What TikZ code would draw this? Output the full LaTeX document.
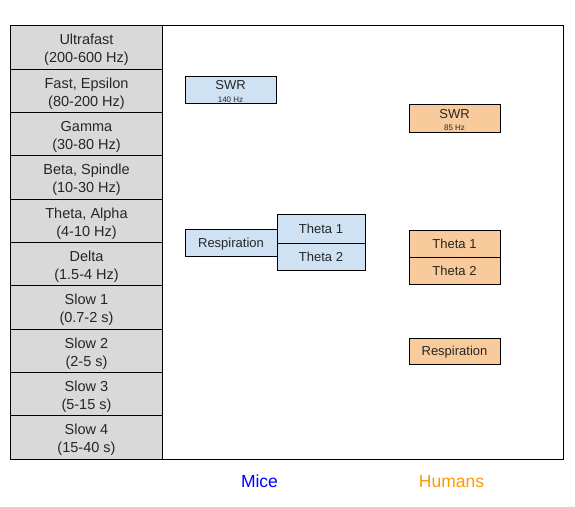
\documentclass[tikz,border=0pt]{standalone}
\usepackage{fontspec}
\setmainfont{Liberation Sans}
\definecolor{rowgray}{HTML}{D9D9D9}
\definecolor{miceblue}{HTML}{CFE2F3}
\definecolor{humorange}{HTML}{F9CB9C}
\definecolor{micetext}{RGB}{0,0,255}
\definecolor{humtext}{RGB}{255,153,0}
\begin{document}
\begin{tikzpicture}[x=1bp,y=-1bp,
  rowbox/.style={draw=black,fill=rowgray,line width=1bp,minimum width=151bp,minimum height=43.3bp,inner sep=0pt},
  rowtext/.style={inner sep=0pt,align=center,font=\fontsize{14.5bp}{18bp}\selectfont,text=black!85},
  boxbase/.style={draw=black,line width=1bp,minimum width=91bp,inner sep=0pt,align=center,font=\fontsize{13bp}{15bp}\selectfont,text=black!85},
  onel/.style={text height=9.3bp,text depth=0pt},
  micebox/.style={boxbase,fill=miceblue},
  humbox/.style={boxbase,fill=humorange},
  bigt/.style={inner sep=0pt,font=\fontsize{13bp}{14bp}\selectfont,text=black!85},
  smallt/.style={inner sep=0pt,font=\fontsize{8bp}{9bp}\selectfont,text=black!85},
  grouplabel/.style={font=\fontsize{17.5bp}{20bp}\selectfont}
]
\useasboundingbox (0,0) rectangle (575,507);
\fill[white] (0,0) rectangle (575,507);
\draw[line width=1bp] (11,26) rectangle (563,459);
% left column
\foreach \i [count=\k from 0] in {Ultrafast\\(200-600 Hz),Fast{,} Epsilon\\(80-200 Hz),Gamma\\(30-80 Hz),Beta{,} Spindle\\(10-30 Hz),Theta{,} Alpha\\(4-10 Hz),Delta\\(1.5-4 Hz),Slow 1\\(0.7-2 s),Slow 2\\(2-5 s),Slow 3\\(5-15 s),Slow 4\\(15-40 s)}{
  \node[rowbox] (row\k) at (86.5,{26+43.3*(\k+0.5)}) {};
  \node[rowtext] (rowt\k) at ([yshift=-2.5bp]row\k.center) {\i};
}
% mice
\node[micebox,minimum height=27bp] (mswr) at (230.5,90.5) {};
\node[bigt] (mswrt) at (230.5,85.5) {SWR};
\node[smallt] (mswrf) at (230.5,99.5) {140 Hz};
\node[micebox,onel,minimum width=92bp,minimum height=27bp] (mresp) at (231,242.5) {Respiration};
\node[micebox,onel,minimum width=88bp,minimum height=28bp] (mth1) at (321,229) {Theta 1};
\node[micebox,onel,minimum width=88bp,minimum height=27bp] (mth2) at (321,256.5) {Theta 2};
% humans
\node[humbox,minimum height=28bp] (hswr) at (454.5,119) {};
\node[bigt] (hswrt) at (454.5,114) {SWR};
\node[smallt] (hswrf) at (454.5,128) {85 Hz};
\node[humbox,onel,minimum height=27bp] (hth1) at (454.5,243.5) {Theta 1};
\node[humbox,onel,minimum height=27bp] (hth2) at (454.5,270.5) {Theta 2};
\node[humbox,onel,minimum height=26bp] (hresp) at (454.5,351) {Respiration};
% labels
\node[grouplabel,text=micetext] (mice) at (259.5,481.5) {Mice};
\node[grouplabel,text=humtext] (humans) at (451.5,481.5) {Humans};
\end{tikzpicture}
\end{document}
